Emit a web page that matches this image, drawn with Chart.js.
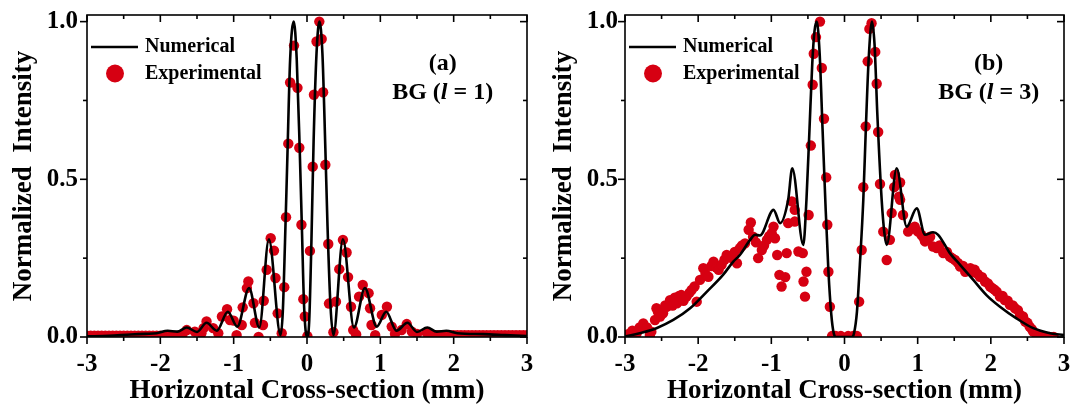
<!DOCTYPE html>
<html><head><meta charset="utf-8">
<script src="https://cdn.jsdelivr.net/npm/chart.js@4.4.0/dist/chart.umd.min.js"></script>
<style>
html,body{margin:0;padding:0;background:#fff;}
#wrap{position:relative;width:1084px;height:406px;overflow:hidden;}
#ca{position:absolute;left:0;top:0;}
#cb{position:absolute;left:540px;top:0;}
</style></head><body>
<div id="wrap"><canvas id="ca" width="540" height="406"></canvas><canvas id="cb" width="544" height="406"></canvas></div>
<script>
// ---------- axes / labels ----------
const xTickValues = [-3, -2, -1, 0, 1, 2, 3];
const xTickLabels = ['-3', '-2', '-1', '0', '1', '2', '3'];
const xMinorValues = [-2.5, -1.5, -0.5, 0.5, 1.5, 2.5];
const yTickValues = [0, 0.5, 1];
const yTickLabels = ['0.0', '0.5', '1.0'];
const yMinorValues = [0.25, 0.75];
const xTitle = 'Horizontal Cross-section (mm)';
const yTitle = 'Normalized  Intensity';
const seriesNames = ['Numerical', 'Experimental'];
const panelTags = ['(a)', '(b)'];
const beamOrders = ['1', '3'];

// ---------- panel (a): BG l = 1 ----------
const aLineX = [-3, -2.7, -2.4, -2.2, -2.05, -1.9, -1.77, -1.64, -1.5, -1.37, -1.23, -1.08, -0.95, -0.79, -0.65, -0.52,
  -0.36, -0.33, -0.3, -0.27, -0.23, -0.18, -0.14, -0.1, -0.07, -0.04, 0,
  0.03, 0.06, 0.09, 0.13, 0.17, 0.21, 0.25, 0.28, 0.32, 0.36,
  0.49, 0.64, 0.79, 0.95, 1.08, 1.22, 1.37, 1.5, 1.64, 1.77, 1.9, 2.05, 2.4, 2.7, 3];
const aLineY = [0.002, 0.004, 0.008, 0.01, 0.012, 0.02, 0.017, 0.03, 0.016, 0.045, 0.02, 0.08, 0.033, 0.155, 0.03, 0.31,
  0.006, 0.08, 0.3, 0.55, 0.88, 1.0, 0.88, 0.6, 0.35, 0.1, 0,
  0.05, 0.3, 0.62, 0.9, 1.0, 0.9, 0.6, 0.35, 0.1, 0.006,
  0.31, 0.03, 0.155, 0.033, 0.08, 0.02, 0.045, 0.016, 0.03, 0.017, 0.02, 0.012, 0.009, 0.006, 0.003];

const aExpX = [-3, -2.95, -2.9, -2.85, -2.8, -2.75, -2.7, -2.65, -2.6, -2.55, -2.5, -2.45, -2.4, -2.35, -2.3, -2.25, -2.2, -2.15, -2.1, -2.05, -2, -1.95, -1.9, -1.85, -1.8, -1.75, -1.7,
  -1.64, -1.53, -1.44, -1.41, -1.37, -1.28, -1.21, -1.16, -1.09, -1.05, -1.0, -0.96, -0.89, -0.877, -0.82, -0.8, -0.73, -0.71, -0.66,
  -0.6, -0.59, -0.55, -0.495, -0.45, -0.43, -0.4, -0.345, -0.31, -0.286, -0.255, -0.23, -0.177, -0.13, -0.105, -0.076, -0.05, -0.03, 0.005,
  0.04, 0.078, 0.095, 0.13, 0.168, 0.2, 0.22, 0.25, 0.29, 0.3, 0.36, 0.395, 0.44, 0.49, 0.54, 0.56, 0.6, 0.63, 0.67, 0.71, 0.76, 0.84, 0.86,
  0.88, 0.93, 1.02, 1.09, 1.155, 1.2, 1.29, 1.36, 1.43, 1.5, 1.63,
  1.7, 1.75, 1.8, 1.85, 1.9, 1.95, 2, 2.05, 2.1, 2.15, 2.2, 2.25, 2.3, 2.35, 2.4, 2.45, 2.5, 2.55, 2.6, 2.65, 2.7, 2.75, 2.8, 2.85, 2.9, 2.95, 3];
const aExpY = [0.004, 0.004, 0.004, 0.004, 0.004, 0.004, 0.004, 0.004, 0.004, 0.004, 0.004, 0.004, 0.004, 0.004, 0.004, 0.004, 0.004, 0.004, 0.004, 0.004, 0.004, 0.004, 0.004, 0.004, 0.004, 0.004, 0.006,
  0.022, 0.017, 0.012, 0.028, 0.049, 0.028, 0.012, 0.065, 0.088, 0.054, 0.052, 0.006, 0.038, 0.094, 0.155, 0.176, 0.107, 0.045, 0.0,
  0.038, 0.115, 0.213, 0.313, 0.274, 0.187, 0.075, 0.012, 0.158, 0.38, 0.613, 0.807, 0.924, 0.79, 0.6, 0.356, 0.12, 0.065, 0.003,
  0.273, 0.54, 0.768, 0.937, 1.0, 0.945, 0.776, 0.546, 0.295, 0.106, 0.015, 0.112, 0.215, 0.308, 0.268, 0.19, 0.096, 0.022, 0.008, 0.128, 0.165, 0.139, 0.091,
  0.038, 0.006, 0.07, 0.096, 0.033, 0.01, 0.022, 0.041, 0.017, 0.01, 0.014,
  0.006, 0.006, 0.006, 0.006, 0.006, 0.006, 0.006, 0.006, 0.006, 0.006, 0.006, 0.006, 0.006, 0.006, 0.006, 0.006, 0.006, 0.006, 0.006, 0.006, 0.006, 0.006, 0.006, 0.006, 0.006, 0.006, 0.006];

// ---------- panel (b): BG l = 3 ----------
const bLineX = [-3, -2.8, -2.57, -2.34, -2.11, -1.88, -1.66, -1.52, -1.43, -1.29, -1.22, -1.155, -0.97, -0.88, -0.77, -0.714, -0.563,
  -0.52, -0.48, -0.44, -0.41, -0.38, -0.34, -0.3, -0.26, -0.22, -0.18, -0.15, -0.12, 0, 0.1,
  0.13, 0.17, 0.21, 0.257, 0.29, 0.33, 0.375, 0.41, 0.45, 0.508, 0.545, 0.577,
  0.713, 0.85, 0.987, 1.1, 1.21, 1.28, 1.44, 1.58, 1.76, 1.94, 2.125, 2.35, 2.58, 2.81, 3];
const bLineY = [0.001, 0.012, 0.028, 0.054, 0.091, 0.144, 0.197, 0.239, 0.26, 0.308, 0.324, 0.322, 0.403, 0.361, 0.435, 0.535, 0.292,
  0.435, 0.65, 0.87, 0.97, 1.0, 0.9, 0.66, 0.42, 0.21, 0.07, 0.015, 0.0, 0.0, 0.0,
  0.012, 0.08, 0.23, 0.435, 0.65, 0.88, 1.0, 0.93, 0.7, 0.435, 0.33, 0.292,
  0.535, 0.35, 0.408, 0.324, 0.332, 0.324, 0.266, 0.229, 0.181, 0.133, 0.096, 0.059, 0.028, 0.012, 0.006];

const bExpX = [-2.99, -2.95, -2.9, -2.84, -2.8, -2.75, -2.7, -2.66, -2.64, -2.59, -2.57, -2.55, -2.52, -2.48, -2.45, -2.43, -2.385, -2.35, -2.32, -2.29, -2.26, -2.23, -2.2, -2.16, -2.12, -2.09, -2.05, -2.02,
  -1.975, -1.93, -1.9, -1.86, -1.82, -1.79, -1.75, -1.72, -1.68, -1.64, -1.61, -1.57, -1.54, -1.5, -1.47, -1.43, -1.4, -1.36, -1.31, -1.28, -1.25, -1.21, -1.18, -1.13, -1.1, -1.06, -1.03, -0.995, -0.97, -0.95,
  -0.92, -0.89, -0.86, -0.81, -0.79, -0.77, -0.72, -0.68, -0.68, -0.63, -0.57, -0.56, -0.54, -0.52, -0.49,
  -0.46, -0.435, -0.42, -0.39, -0.335, -0.31, -0.28, -0.25, -0.235, -0.22, -0.2, -0.17, -0.12, -0.05, 0.05, 0.12, 0.17,
  0.2, 0.235, 0.257, 0.29, 0.317, 0.34, 0.37, 0.42, 0.44, 0.46, 0.485,
  0.53, 0.577, 0.62, 0.645, 0.68, 0.69, 0.745, 0.76, 0.76, 0.8, 0.87, 0.92, 0.96, 1.0, 1.05, 1.08, 1.1, 1.14, 1.17, 1.21, 1.26, 1.3, 1.35, 1.4, 1.44, 1.47, 1.51,
  1.55, 1.58, 1.62, 1.65, 1.69, 1.72, 1.75, 1.78, 1.82, 1.85, 1.88, 1.92, 1.96, 1.99, 2.02, 2.05, 2.08, 2.125, 2.16, 2.19, 2.23, 2.26, 2.3, 2.33, 2.37, 2.4, 2.44, 2.47, 2.5, 2.53, 2.56, 2.58, 2.63, 2.68, 2.72, 2.8, 2.86];
const bExpY = [0.006, 0.01, 0.02, 0.012, 0.03, 0.043, 0.03, 0.006, 0.017, 0.054, 0.091, 0.08, 0.065, 0.075, 0.1, 0.096, 0.117, 0.1, 0.125, 0.107, 0.13, 0.133, 0.115, 0.128, 0.14, 0.149, 0.16, 0.112,
  0.181, 0.218, 0.2, 0.191, 0.225, 0.239, 0.22, 0.213, 0.229, 0.245, 0.26, 0.255, 0.25, 0.27, 0.234, 0.282, 0.29, 0.297, 0.34, 0.363, 0.318, 0.3, 0.25, 0.276, 0.29, 0.308, 0.32, 0.329, 0.35, 0.313,
  0.26, 0.197, 0.16, 0.19, 0.266, 0.361, 0.43, 0.366, 0.403, 0.271, 0.266, 0.176, 0.128, 0.207, 0.387,
  0.607, 0.8, 0.898, 0.951, 1.0, 0.853, 0.692, 0.506, 0.356, 0.207, 0.096, 0.003, 0.003, 0.003, 0.003, 0.003, 0.003,
  0.112, 0.276, 0.475, 0.668, 0.874, 0.977, 0.995, 0.904, 0.803, 0.65, 0.485,
  0.334, 0.244, 0.308, 0.393, 0.475, 0.514, 0.445, 0.49, 0.435, 0.387, 0.334, 0.345, 0.35, 0.335, 0.324, 0.315, 0.303, 0.31, 0.318, 0.287, 0.282, 0.29, 0.266, 0.27, 0.255, 0.25, 0.244,
  0.235, 0.223, 0.225, 0.207, 0.215, 0.218, 0.205, 0.213, 0.2, 0.191, 0.19, 0.176, 0.17, 0.16, 0.155, 0.15, 0.144, 0.128, 0.13, 0.117, 0.115, 0.102, 0.1, 0.091, 0.085, 0.07, 0.065, 0.049, 0.045, 0.033, 0.025, 0.017, 0.006, 0.003, 0.0, 0.0, 0.0];

// ---------- drawing ----------
const RED = 'rgb(214,0,18)';
const FAM = '"Liberation Serif", "Times New Roman", Times, serif';
const MAJ = 7, MIN = 4;

function pts(xs, ys) { return xs.map((x, i) => ({ x: x, y: ys[i] })); }
function noPad(s) { s.paddingLeft = 0; s.paddingRight = 0; s.paddingTop = 0; s.paddingBottom = 0; }

function framePlugin(p) {
  return {
    id: 'frame' + p.idx,
    afterDraw(chart) {
      const ctx = chart.ctx, a = chart.chartArea, xs = chart.scales.x, ys = chart.scales.y;
      ctx.save();
      ctx.strokeStyle = '#000';
      ctx.lineWidth = 1.6;
      ctx.strokeRect(a.left, a.top, a.right - a.left, a.bottom - a.top);
      const seg = (x1, y1, x2, y2) => { ctx.beginPath(); ctx.moveTo(x1, y1); ctx.lineTo(x2, y2); ctx.stroke(); };
      xTickValues.forEach(v => { const px = xs.getPixelForValue(v); seg(px, a.bottom, px, a.bottom + MAJ); seg(px, a.top, px, a.top + MAJ); });
      xMinorValues.forEach(v => { const px = xs.getPixelForValue(v); seg(px, a.bottom, px, a.bottom + MIN); seg(px, a.top, px, a.top + MIN); });
      yTickValues.forEach(v => { const py = ys.getPixelForValue(v); seg(a.left - MAJ, py, a.left, py); seg(a.right - MAJ, py, a.right, py); });
      yMinorValues.forEach(v => { const py = ys.getPixelForValue(v); seg(a.left - MIN, py, a.left, py); seg(a.right - MIN, py, a.right, py); });

      // legend
      const ly1 = a.top + 32, ly2 = a.top + 58.5;
      ctx.lineWidth = 2.6;
      seg(a.left + 4, ly1, a.left + 51, ly1);
      ctx.fillStyle = RED;
      ctx.beginPath(); ctx.arc(a.left + 28, ly2, 9, 0, Math.PI * 2); ctx.fill();
      ctx.fillStyle = '#000';
      ctx.font = 'bold 20px ' + FAM;
      ctx.textBaseline = 'middle';
      ctx.textAlign = 'left';
      ctx.fillText(seriesNames[0], a.left + 58, ly1);
      ctx.fillText(seriesNames[1], a.left + 58, ly2);

      // annotation
      const cx = xs.getPixelForValue(p.tagX);
      ctx.textAlign = 'center';
      ctx.font = 'bold 24px ' + FAM;
      ctx.fillText(panelTags[p.idx], cx, a.top + 49);
      const parts = [['BG (', 'bold 24px '], ['l', 'italic bold 24px '], [' = ' + beamOrders[p.idx] + ')', 'bold 24px ']];
      ctx.textAlign = 'left';
      let tw = 0;
      parts.forEach(q => { ctx.font = q[1] + FAM; tw += ctx.measureText(q[0]).width; });
      let x0 = cx - tw / 2;
      parts.forEach(q => { ctx.font = q[1] + FAM; ctx.fillText(q[0], x0, a.top + 78); x0 += ctx.measureText(q[0]).width; });
      ctx.restore();
    }
  };
}

function makeChart(id, lineX, lineY, expX, expY, p) {
  const tickFont = { family: FAM, size: 25, weight: 'bold', lineHeight: 1 };
  const titleFont = { family: FAM, size: 27, weight: 'bold', lineHeight: 1 };
  return new Chart(document.getElementById(id), {
    type: 'scatter',
    data: {
      datasets: [
        { label: seriesNames[0], data: pts(lineX, lineY), showLine: true, borderColor: '#000', backgroundColor: '#000',
          borderWidth: 2.6, pointRadius: 0, pointHoverRadius: 0, cubicInterpolationMode: 'monotone', clip: 0 },
        { label: seriesNames[1], data: pts(expX, expY), showLine: false, pointRadius: 5.2, pointHoverRadius: 5.2,
          backgroundColor: RED, borderColor: RED, borderWidth: 0, clip: 0 }
      ]
    },
    options: {
      responsive: false, animation: false, events: [],
      layout: { autoPadding: false, padding: { left: 0, right: p.padRight, top: 15, bottom: 0 } },
      plugins: { legend: { display: false }, tooltip: { enabled: false } },
      scales: {
        x: {
          type: 'linear', position: 'bottom', min: -3, max: 3,
          afterBuildTicks: s => { s.ticks = xTickValues.map(v => ({ value: v })); },
          afterFit: s => { s.height = 69; noPad(s); },
          ticks: { callback: (v, i) => xTickLabels[i], font: tickFont, color: '#000', padding: 15, maxRotation: 0, autoSkip: false },
          grid: { display: false, drawTicks: false },
          border: { display: false },
          title: { display: true, text: xTitle, font: titleFont, color: '#000', padding: { top: 0, bottom: 1.5 } }
        },
        y: {
          type: 'linear', position: 'left', min: 0, max: 1.021,
          afterBuildTicks: s => { s.ticks = yTickValues.map(v => ({ value: v })); },
          afterFit: s => { s.width = p.left; noPad(s); },
          ticks: { callback: (v, i) => yTickLabels[i], font: tickFont, color: '#000', padding: p.yPad },
          grid: { display: false, drawTicks: false },
          border: { display: false },
          title: { display: true, text: yTitle, font: titleFont, color: '#000', padding: { top: 10.7, bottom: 0 } }
        }
      }
    },
    plugins: [framePlugin(p)]
  });
}

makeChart('ca', aLineX, aLineY, aExpX, aExpY, { idx: 0, left: 87, padRight: 13, yPad: 9, tagX: 1.85 });
makeChart('cb', bLineX, bLineY, bExpX, bExpY, { idx: 1, left: 85, padRight: 20, yPad: 7, tagX: 1.97 });
</script>
</body></html>
